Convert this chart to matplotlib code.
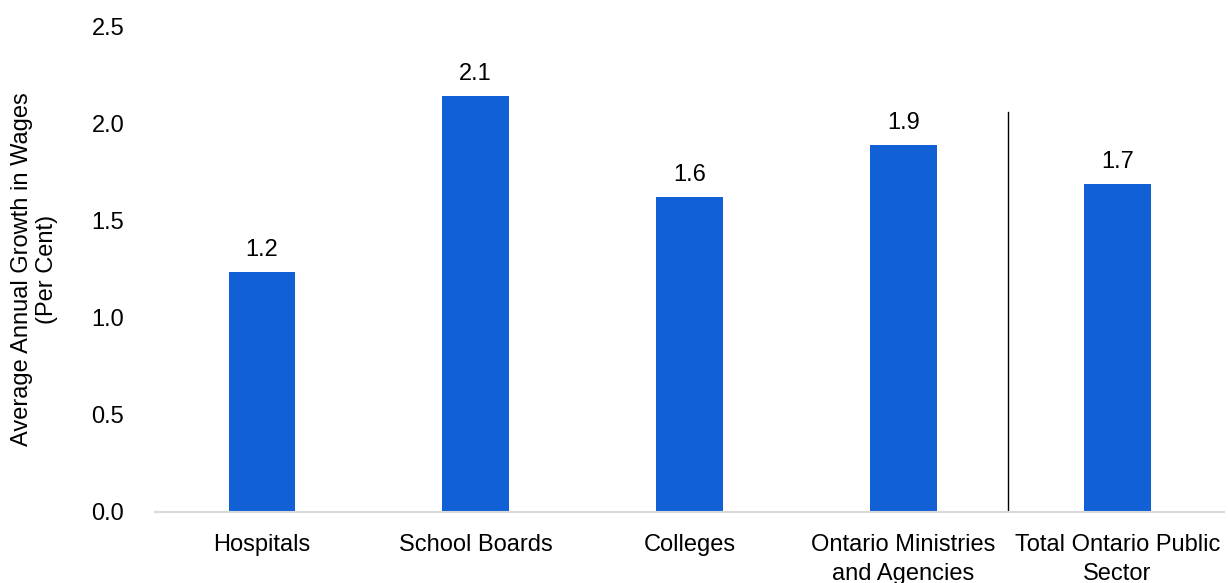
import matplotlib.pyplot as plt
import numpy as np

plt.rcParams['font.family'] = ['Liberation Sans', 'DejaVu Sans']

sectores = ['Hospitals', 'School Boards', 'Colleges',
            'Ontario Ministries\nand Agencies', 'Total Ontario Public\nSector']
crecimiento = [1.237, 2.144, 1.624, 1.89, 1.69]
etiquetas = ['1.2', '2.1', '1.6', '1.9', '1.7']

azul = '#1160D6'

fig = plt.figure(figsize=(12.28, 5.83), dpi=100)
ax = fig.add_axes([0.126, 0.1218, 0.871, 0.832])

x = np.arange(len(sectores))
barras = ax.bar(x, crecimiento, width=0.31, color=azul, zorder=2)
ax.bar_label(barras, labels=etiquetas, padding=8, fontsize=17)

# linea que separa el total del resto
ax.plot([3.49, 3.49], [0, 2.06], color='black', linewidth=1)

ax.set_xlim(-0.5, 4.5)
ax.set_ylim(0, 2.5)
ax.set_yticks(np.arange(0, 2.51, 0.5))
ax.set_yticklabels([f'{v:.1f}' for v in np.arange(0, 2.51, 0.5)])
ax.set_xticks(x)
ax.set_xticklabels(sectores, linespacing=1.4)
ax.tick_params(axis='both', length=0, labelsize=17)
ax.tick_params(axis='y', pad=22)
ax.tick_params(axis='x', pad=16)

for lado in ['top', 'right', 'left']:
    ax.spines[lado].set_visible(False)
ax.spines['bottom'].set_color('#d9d9d9')
ax.spines['bottom'].set_linewidth(1.5)

ax.set_ylabel('Average Annual Growth in Wages\n(Per Cent)', fontsize=17, labelpad=24)

fig.savefig('out.png', dpi=100)
